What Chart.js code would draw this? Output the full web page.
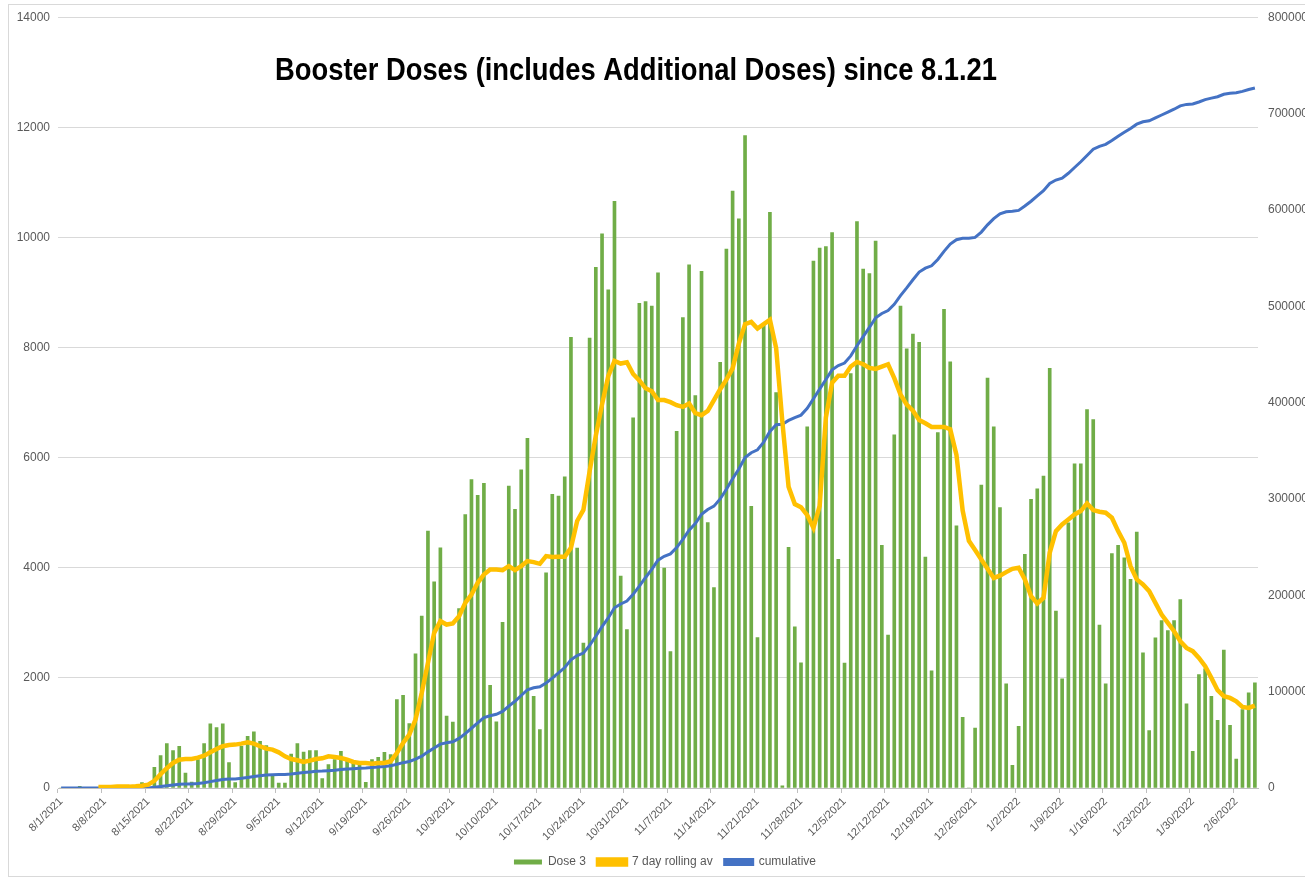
<!DOCTYPE html>
<html>
<head>
<meta charset="utf-8">
<script src="https://cdn.jsdelivr.net/npm/chart.js@4.4.1/dist/chart.umd.min.js"></script>
<style>
  html, body { margin: 0; padding: 0; background: #fff; overflow: hidden; }
  #wrap { position: relative; width: 1330px; height: 878px; }
  #frame { position: absolute; left: 8px; top: 4px; width: 1320px; height: 871px; border: 1px solid #d9d9d9; pointer-events: none; }
  canvas { position: absolute; left: 0; top: 0; }
</style>
</head>
<body>
<div id="wrap">
  <canvas id="chart" width="1330" height="878"></canvas>
  <div id="frame"></div>
</div>
<script>
const TITLE = "Booster Doses (includes Additional Doses) since 8.1.21";

const tickLabels = [
  "8/1/2021", "8/8/2021", "8/15/2021", "8/22/2021", "8/29/2021", "9/5/2021", "9/12/2021",
  "9/19/2021", "9/26/2021", "10/3/2021", "10/10/2021", "10/17/2021", "10/24/2021", "10/31/2021",
  "11/7/2021", "11/14/2021", "11/21/2021", "11/28/2021", "12/5/2021", "12/12/2021", "12/19/2021",
  "12/26/2021", "1/2/2022", "1/9/2022", "1/16/2022", "1/23/2022", "1/30/2022", "2/6/2022",
];

// daily Dose 3 counts, 8/1/2021 .. 2/9/2022
const dose3 = [
  0, 0, 0, 30, 0, 0, 0, 0, 0, 0, 0, 0, 0, 100, 0,
  376, 588, 806, 679, 758, 273, 109, 515, 806, 1164, 1097, 1164, 461, 100,
  758, 940, 1018, 848, 770, 212, 91, 91, 618, 806, 654, 679, 679, 170,
  424, 515, 667, 515, 455, 424, 103, 515, 558, 648, 606, 1606, 1685, 1170,
  2436, 3121, 4666, 3745, 4360, 1306, 1198, 3260, 4965, 5600, 5318, 5532, 1866, 1200,
  3008, 5484, 5060, 5781, 6351, 1667, 1060, 3909, 5333, 5303, 5650, 8187, 4358, 2630,
  8172, 9455, 10066, 9046, 10654, 3850, 2878, 6725, 8804, 8837, 8751, 9356, 3996, 2480,
  6480, 8543, 9504, 7126, 9386, 4819, 3638, 7732, 9787, 10843, 10339, 11850, 5118, 2732,
  8402, 10457, 7181, 40, 4370, 2929, 2274, 6558, 9569, 9805, 9833, 10086, 4152, 2270,
  7528, 10288, 9427, 9343, 9934, 4406, 2777, 6414, 8752, 7976, 8246, 8094, 4195, 2127,
  6457, 8693, 7739, 4760, 1283, 0, 1089, 5503, 7444, 6558, 5094, 1890, 410, 1118,
  4242, 5242, 5436, 5666, 7623, 3212, 1982, 4818, 5890, 5890, 6872, 6690, 2957, 1891,
  4260, 4406, 4181, 3788, 4648, 2454, 1042, 2727, 3042, 2860, 3042, 3424, 1527, 667,
  2060, 2163, 1667, 1230, 2503, 1139, 527, 1424, 1727, 1909,
];

// 7 day rolling average
const rollingAvg = [
  null, null, null, null, null, null, 20, 20, 20, 25, 25, 25, 30, 40, 60,
  130, 250, 360, 455, 515, 527, 527, 551, 588, 648, 709, 758, 782, 788,
  806, 830, 806, 758, 715, 697, 648, 576, 527, 503, 473, 497, 527, 539,
  576, 564, 545, 515, 473, 455, 455, 442, 455, 455, 485, 636, 818, 970,
  1242, 1727, 2272, 2818, 3030, 2969, 2988, 3121, 3363, 3515, 3727, 3878, 3969, 3969,
  3957, 4030, 3957, 4030, 4121, 4103, 4072, 4212, 4194, 4200, 4200, 4363, 4850, 5050,
  5750, 6400, 6968, 7480, 7756, 7709, 7732, 7520, 7402, 7260, 7205, 7047, 7047, 7008,
  6953, 6921, 6984, 6811, 6772, 6850, 7047, 7244, 7417, 7622, 8071, 8425, 8465, 8346,
  8425, 8504, 7992, 6654, 5472, 5157, 5100, 4954, 4726, 5123, 6727, 7360, 7486, 7486,
  7655, 7739, 7697, 7630, 7613, 7655, 7697, 7444, 7149, 6963, 6853, 6684, 6625, 6558,
  6558, 6558, 6516, 6051, 5039, 4490, 4321, 4152, 3984, 3815, 3857, 3921, 3981, 4000,
  3788, 3485, 3351, 3454, 4272, 4666, 4787, 4878, 4969, 5030, 5169, 5048, 5018, 5000,
  4909, 4666, 4454, 4030, 3788, 3697, 3575, 3363, 3151, 3000, 2848, 2666, 2545, 2485,
  2363, 2212, 2000, 1776, 1667, 1636, 1576, 1473, 1454, 1497,
];

// cumulative doses (right axis)
const cumulative = [
  0, 0, 0, 30, 30, 30, 30, 30, 30, 30, 30, 30, 30, 130, 130,
  700, 1500, 2300, 3000, 3800, 4100, 4200, 4700, 5500, 6600, 7700, 8800, 9300, 9400,
  10100, 11000, 12000, 12800, 13600, 13800, 13900, 14000, 14600, 15400, 16000, 16700, 17400, 17600,
  18000, 18500, 19200, 19700, 20100, 20500, 20700, 21200, 21800, 22400, 23000, 24600, 26300, 27500,
  30000, 33000, 37500, 41500, 45500, 47000, 48000, 51500, 56500, 62000, 67500, 73000, 75000, 76500,
  79500, 85000, 90000, 96000, 102000, 104000, 105000, 109000, 114000, 119500, 125000, 133000, 137500, 140000,
  148000, 157500, 167500, 176500, 187000, 191000, 194000, 201000, 209500, 218500, 227000, 236500, 240500, 243000,
  249500, 258000, 267500, 274500, 284000, 289000, 292500, 300000, 310000, 321000, 331000, 343000, 348000, 351000,
  359000, 370000, 377000, 377500, 381500, 384500, 387000, 394000, 404000, 414000, 424000, 434000, 438500, 441000,
  448500, 459000, 468500, 478000, 488000, 492500, 495500, 502000, 511000, 519000, 527500, 535500, 539500, 542000,
  548500, 557000, 564500, 569000, 570500, 570500, 571500, 577000, 584500, 591000, 596000, 598000, 598500, 599500,
  604000, 609000, 614500, 620000, 627500, 631000, 633000, 638000, 644000, 650000, 656500, 663000, 666000, 668000,
  672000, 676500, 680500, 684500, 689000, 691500, 692500, 695500, 698500, 701500, 704500, 708000, 709500, 710000,
  712000, 714500, 716000, 717500, 720000, 721000, 721500, 723000, 725000, 726500,
];

const categories = dose3.map((_, i) => {
  const d = new Date(2021, 7, 1 + i);
  return `${d.getMonth() + 1}/${d.getDate()}/${d.getFullYear()}`;
});

const GRAY_TEXT = "#595959";
const FONT = '"Liberation Sans", Arial, sans-serif';

const titlePlugin = {
  id: "chartTitle",
  afterDraw(chart) {
    const { ctx } = chart;
    ctx.save();
    ctx.font = `bold 31px ${FONT}`;
    const w = ctx.measureText(TITLE).width;
    ctx.translate(636, 80);
    ctx.scale(722 / w, 1);
    ctx.textAlign = "center";
    ctx.textBaseline = "alphabetic";
    ctx.fillStyle = "#000";
    ctx.fillText(TITLE, 0, 0);
    ctx.restore();
  },
};

const whiteBg = {
  id: "whiteBg",
  beforeDraw(chart) {
    const { ctx, width, height } = chart;
    ctx.save();
    ctx.fillStyle = "#fff";
    ctx.fillRect(0, 0, width, height);
    ctx.restore();
  },
};

new Chart(document.getElementById("chart"), {
  type: "bar",
  data: {
    labels: categories,
    datasets: [
      {
        type: "bar",
        label: "Dose 3",
        data: dose3,
        backgroundColor: "#70ad47",
        borderWidth: 0,
        barThickness: 3,
        yAxisID: "y",
        order: 3,
      },
      {
        type: "line",
        label: "7 day rolling av",
        data: rollingAvg,
        borderColor: "#ffc000",
        backgroundColor: "#ffc000",
        borderWidth: 4.5,
        pointRadius: 0,
        tension: 0,
        yAxisID: "y",
        order: 1,
      },
      {
        type: "line",
        label: "cumulative",
        data: cumulative,
        borderColor: "#4472c4",
        backgroundColor: "#4472c4",
        borderWidth: 3,
        pointRadius: 0,
        tension: 0,
        yAxisID: "y1",
        order: 2,
      },
    ],
  },
  options: {
    responsive: false,
    animation: false,
    layout: { padding: { top: 16, left: 0, right: 0, bottom: 0 } },
    plugins: {
      title: { display: false },
      tooltip: { enabled: false },
      legend: {
        position: "bottom",
        labels: {
          color: GRAY_TEXT,
          font: { family: FONT, size: 12 },
          boxWidth: 28,
          boxHeight: 5,
          padding: 12,
          sort: (a, b) => a.datasetIndex - b.datasetIndex,
        },
      },
    },
    scales: {
      x: {
        offset: true,
        grid: {
          display: true,
          drawOnChartArea: false,
          tickLength: 5,
          color: (c) => (c.index % 7 === 0 ? "#bfbfbf" : "rgba(0,0,0,0)"),
        },
        border: { color: "#bfbfbf" },
        ticks: {
          autoSkip: false,
          maxRotation: 45,
          minRotation: 45,
          color: GRAY_TEXT,
          font: { family: FONT, size: 11 },
          padding: 2,
          callback: (value, index) => (tickLabels.includes(categories[index]) ? categories[index] : ""),
        },
        afterFit: (s) => { s.height = 56; },
      },
      y: {
        position: "left",
        min: 0,
        max: 14000,
        ticks: {
          stepSize: 2000,
          color: GRAY_TEXT,
          font: { family: FONT, size: 12 },
          padding: 8,
          callback: (v) => String(v),
        },
        grid: { color: "#d9d9d9", drawTicks: false },
        border: { display: false },
        afterFit: (s) => { s.width = 58; },
      },
      y1: {
        position: "right",
        min: 0,
        max: 800000,
        ticks: {
          stepSize: 100000,
          color: GRAY_TEXT,
          font: { family: FONT, size: 12 },
          padding: 10,
          callback: (v) => String(v),
        },
        grid: { drawOnChartArea: false, drawTicks: false },
        border: { display: false },
        afterFit: (s) => { s.width = 72; },
      },
    },
  },
  plugins: [whiteBg, titlePlugin],
});
</script>
</body>
</html>
